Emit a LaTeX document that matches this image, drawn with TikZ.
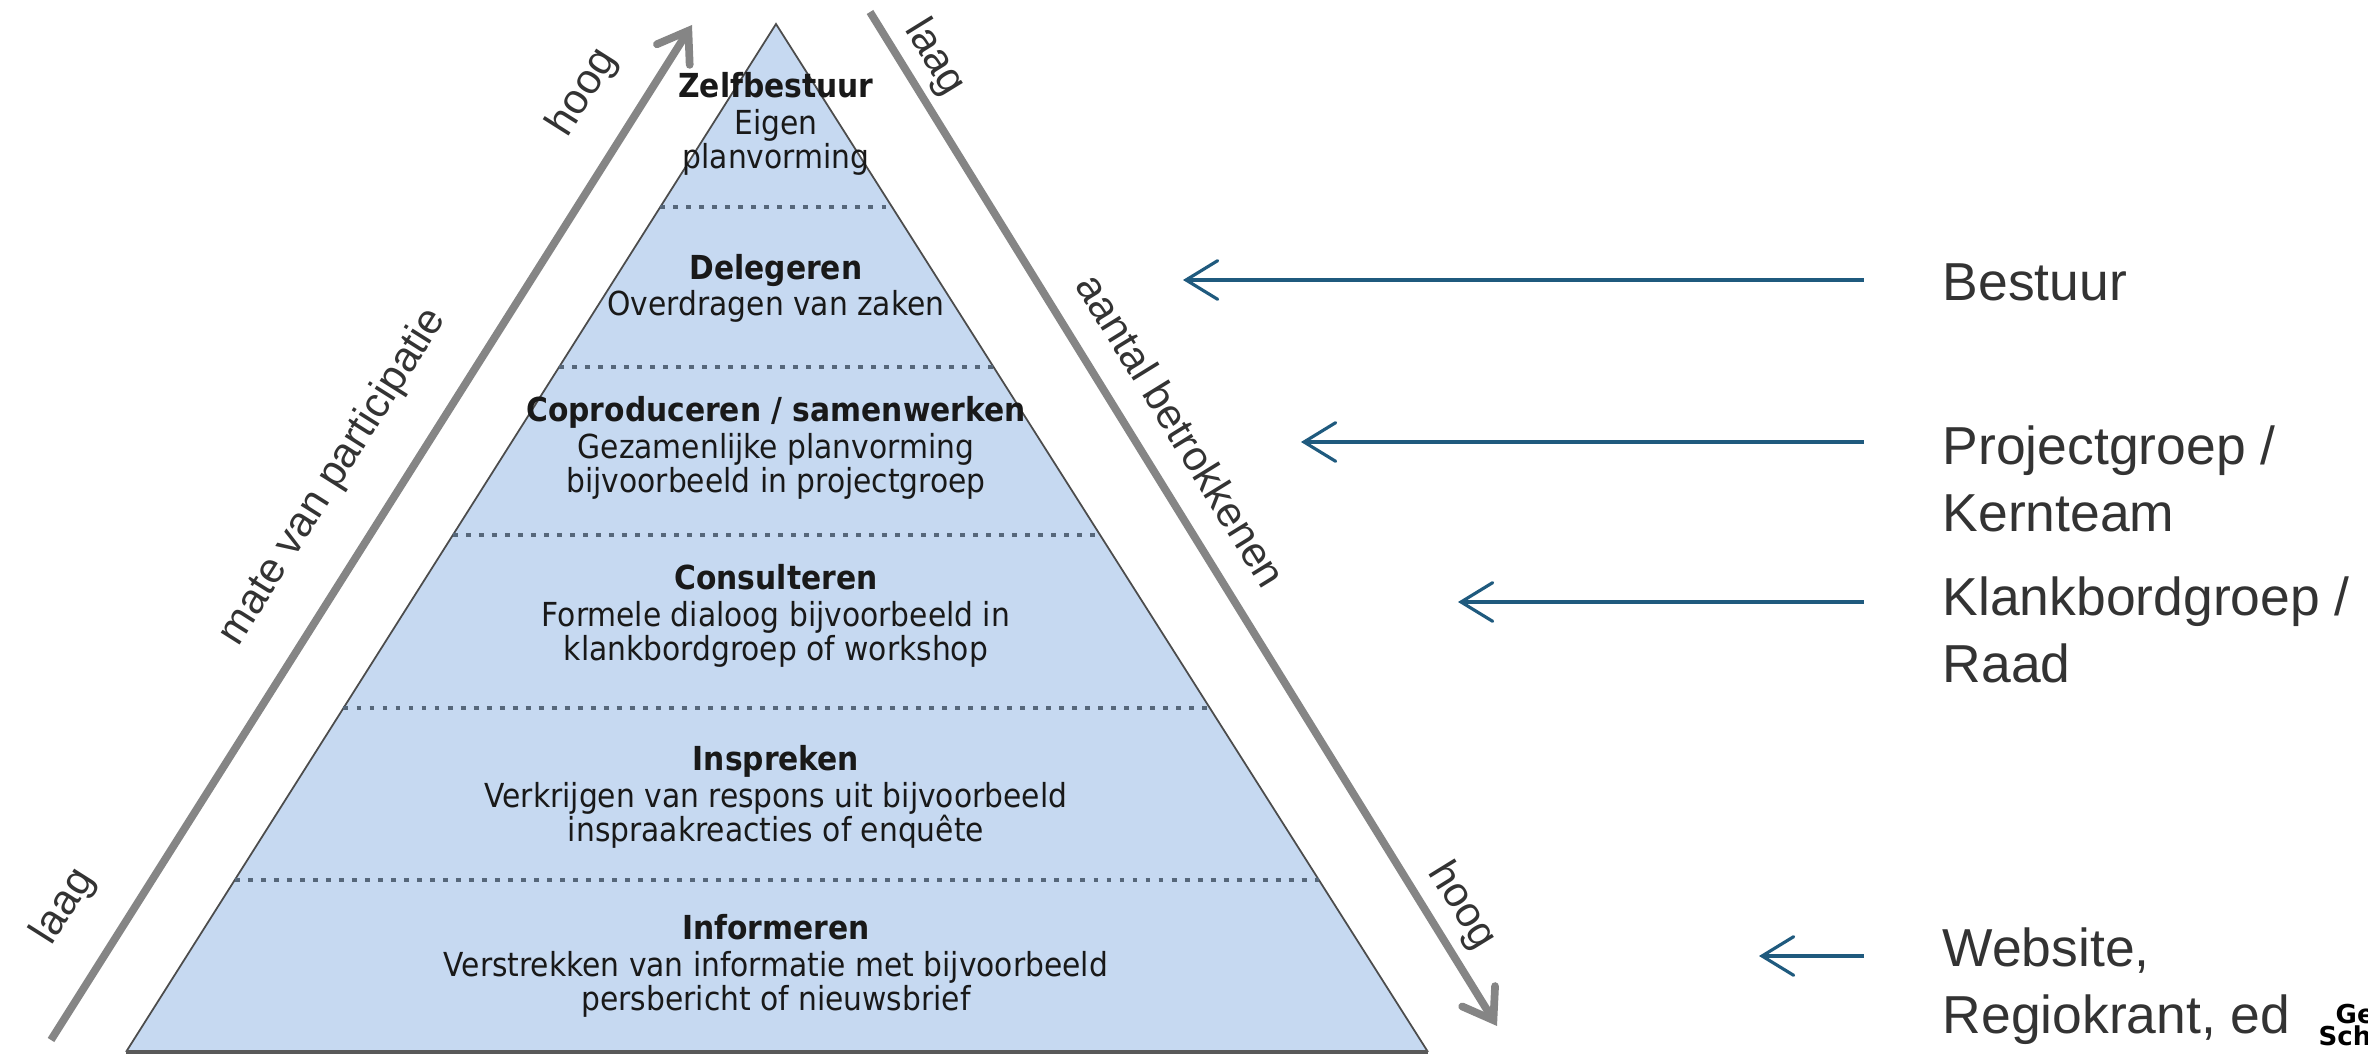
\documentclass[tikz,border=0pt]{standalone}
\usepackage{fontspec}
\setmainfont{Liberation Sans}
\newfontfamily\piramidefont{DejaVu Sans Condensed}
\newfontfamily\voetfont{DejaVu Sans}
\usepackage{tikz}
\usetikzlibrary{shapes,arrows,arrows.meta,positioning,calc}

\definecolor{piramideblauw}{HTML}{C6D9F1}
\definecolor{stippel}{HTML}{56677A}
\definecolor{pijlgrijs}{HTML}{858585}
\definecolor{pijlblauw}{HTML}{1F5A7E}
\definecolor{tekstgrijs}{HTML}{333333}

\begin{document}
\begin{tikzpicture}[x=0.01cm,y=0.01cm]
	\tikzstyle{every node}=[font=\piramidefont\fontsize{9.4}{9.7}\selectfont, text=black!90]
	\tikzstyle{trede}=[align=center, inner sep=0]
	\tikzstyle{scheiding}=[stippel, line width=1.1pt, dash pattern=on 1.4pt off 2.3pt]
	\tikzstyle{grijzepijl}=[pijlgrijs, line width=2.2pt,
	-{Straight Barb[length=8pt,width=11pt,line cap=round]}]
	\tikzstyle{aslabel}=[font=\fontsize{12}{14}\selectfont, text=tekstgrijs]
	\tikzstyle{blauwepijl}=[pijlblauw, line width=1.3pt, shorten <=0.78cm,
	-{Straight Barb[length=9pt,width=11pt,line width=0.9pt,line cap=round]}]
	\tikzstyle{groep}=[font=\fontsize{15.2}{19}\selectfont, text=tekstgrijs,
	align=left, anchor=north west, inner sep=0]
	\tikzstyle{voet}=[font=\voetfont\bfseries\fontsize{7.4}{8}\selectfont,
	text=black, anchor=north west, inner sep=0]

	\useasboundingbox (0,0) rectangle (2368,1054);

	% de piramide
	\coordinate (top) at (776,1030);
	\coordinate (linksonder) at (126,2);
	\coordinate (rechtsonder) at (1428,2);
	\fill[piramideblauw] (top) -- (linksonder) -- (rechtsonder) -- cycle;
	\draw[black!70, line width=0.5pt] (linksonder) -- (top) -- (rechtsonder);
	\draw[black!65, line width=1.4pt] (linksonder) -- (rechtsonder);
	% stippellijnen tussen de treden
	\foreach \t in {0.178,0.3337,0.4971,0.6654,0.8327}
		\draw[scheiding] ($(top)!\t!(linksonder)$) -- ($(top)!\t!(rechtsonder)$);

	% de treden, van boven naar beneden
	\node[trede] (zelf) at (776,930) {\textbf{Zelfbestuur}\\[0.6pt]Eigen\\planvorming};
	\node[trede] (deleg) at (776,766) {\textbf{Delegeren}\\[0.6pt]Overdragen van zaken};
	\node[trede] (copro) at (776,606) {\textbf{Coproduceren / samenwerken}\\[0.6pt]Gezamenlijke planvorming\\bijvoorbeeld in projectgroep};
	\node[trede] (consult) at (776,438) {\textbf{Consulteren}\\[0.6pt]Formele dialoog bijvoorbeeld in\\klankbordgroep of workshop};
	\node[trede] (inspr) at (776,257) {\textbf{Inspreken}\\[0.6pt]Verkrijgen van respons uit bijvoorbeeld\\inspraakreacties of enquête};
	\node[trede] (inform) at (776,88) {\textbf{Informeren}\\[0.6pt]Verstrekken van informatie met bijvoorbeeld\\persbericht of nieuwsbrief};

	% grijze pijlen langs de zijkanten
	\coordinate (linksbegin) at (51,14);
	\coordinate (linkspunt) at (692,1029);
	\coordinate (rechtsbegin) at (870,1042);
	\coordinate (rechtspunt) at (1497,28);
	\draw[grijzepijl] (linksbegin) -- (linkspunt);
	\draw[grijzepijl] (rechtsbegin) -- (rechtspunt);

	\node[aslabel, rotate=57.7] (lhoog) at ($(linksbegin)!0.904!(linkspunt)!0.56cm!90:(linkspunt)$) {hoog};
	\node[aslabel, rotate=57.7] (mate) at ($(linksbegin)!0.522!(linkspunt)!0.62cm!90:(linkspunt)$) {mate van participatie};
	\node[aslabel, rotate=57.7] (llaag) at ($(linksbegin)!0.0995!(linkspunt)!0.6cm!90:(linkspunt)$) {laag};
	\node[aslabel, rotate=-58.3] (rlaag) at ($(rechtsbegin)!0.061!(rechtspunt)!0.31cm!90:(rechtspunt)$) {laag};
	\node[aslabel, rotate=-58.3] (aantal) at ($(rechtsbegin)!0.436!(rechtspunt)!0.45cm!90:(rechtspunt)$) {aantal betrokkenen};
	\node[aslabel, rotate=-58.3] (rhoog) at ($(rechtsbegin)!0.899!(rechtspunt)!0.33cm!90:(rechtspunt)$) {hoog};

	% groepen rechts met blauwe pijlen
	\node[groep] (bestuur) at (1942,791) {Bestuur};
	\node[groep] (projectgroep) at (1942,629) {Projectgroep /\\Kernteam};
	\node[groep] (klankbord) at (1942,478) {Klankbordgroep /\\Raad};
	\node[groep] (website) at (1942,127) {Website,\\Regiokrant, ed};

	\coordinate (bestuurpijl) at (1183,774);
	\coordinate (projectpijl) at (1301,612);
	\coordinate (klankpijl) at (1458,452);
	\coordinate (websitepijl) at (1759,98);
	\draw[blauwepijl] (bestuur.west |- bestuurpijl) -- (bestuurpijl);
	\draw[blauwepijl] (projectgroep.west |- projectpijl) -- (projectpijl);
	\draw[blauwepijl] (klankbord.west |- klankpijl) -- (klankpijl);
	\draw[blauwepijl] (website.west |- websitepijl) -- (websitepijl);

	% afgesneden tekst rechtsonder
	\node[voet] (ge) at (2335,51) {Ge};
	\node[voet] (sche) at (2318,29) {Sche};
\end{tikzpicture}
\end{document}
